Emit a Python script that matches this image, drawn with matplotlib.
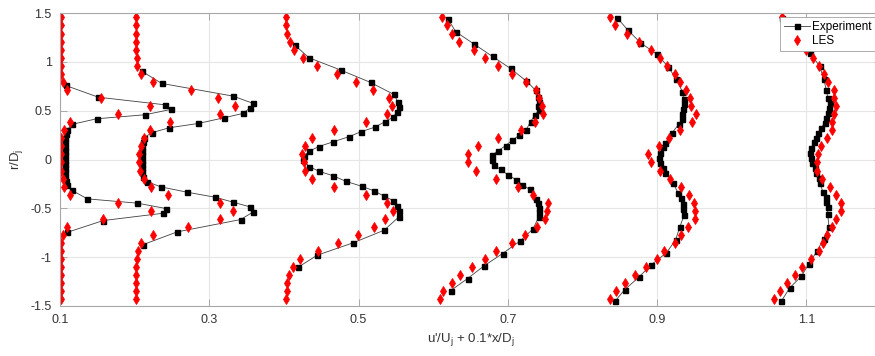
import matplotlib
matplotlib.use('Agg')
import matplotlib.pyplot as plt

plt.rcParams['font.family'] = ['Liberation Sans', 'DejaVu Sans']
plt.rcParams['mathtext.fontset'] = 'custom'
plt.rcParams['mathtext.rm'] = 'Liberation Sans'
plt.rcParams['mathtext.it'] = 'Liberation Sans'

# radial positions of the LES samples (same for every profile)
r_les = [1.455, 1.373, 1.29, 1.208, 1.125, 1.043, 0.96, 0.878, 0.795, 0.713,
         0.63, 0.548, 0.465, 0.383, 0.3, 0.218, 0.135, 0.053, -0.03, -0.113,
         -0.195, -0.278, -0.36, -0.443, -0.525, -0.608, -0.69, -0.773, -0.855,
         -0.938, -1.02, -1.103, -1.185, -1.268, -1.35, -1.433]

les1 = [0.101, 0.101, 0.101, 0.101, 0.101, 0.101, 0.101, 0.102, 0.104, 0.109,
        0.155, 0.22, 0.178, 0.113, 0.106, 0.102, 0.1015, 0.101, 0.1015, 0.102,
        0.1036, 0.106, 0.113, 0.178, 0.2215, 0.157, 0.109, 0.104, 0.1013,
        0.101, 0.101, 0.101, 0.101, 0.101, 0.101, 0.101]
les2 = [0.2014, 0.2014, 0.2014, 0.2014, 0.2014, 0.2027, 0.2035, 0.208, 0.225,
        0.275, 0.312, 0.335, 0.314, 0.247, 0.2205, 0.2125, 0.208, 0.2062,
        0.2062, 0.207, 0.212, 0.222, 0.245, 0.314, 0.332, 0.315, 0.272, 0.224,
        0.209, 0.205, 0.2027, 0.2018, 0.2014, 0.2014, 0.2014, 0.2014]
les3 = [0.4027, 0.4027, 0.4044, 0.408, 0.4134, 0.425, 0.4438, 0.4706, 0.496,
        0.5196, 0.541, 0.545, 0.5375, 0.5098, 0.4674, 0.4379, 0.4285, 0.4245,
        0.4268, 0.4281, 0.437, 0.467, 0.5094, 0.5375, 0.5455, 0.5348, 0.5205,
        0.4987, 0.4723, 0.4455, 0.4214, 0.4116, 0.4067, 0.4044, 0.4036, 0.4027]
les4 = [0.612, 0.6187, 0.6254, 0.6348, 0.6544, 0.6692, 0.6862, 0.7057, 0.725,
        0.7384, 0.7415, 0.7464, 0.7473, 0.7361, 0.7183, 0.687, 0.6602, 0.6468,
        0.646, 0.658, 0.6839, 0.713, 0.7339, 0.754, 0.7526, 0.7504, 0.7392,
        0.7236, 0.7057, 0.6848, 0.6696, 0.6522, 0.6366, 0.625, 0.6134, 0.6089]
les5 = [0.8366, 0.8433, 0.8603, 0.8758, 0.8915, 0.9035, 0.9138, 0.9236, 0.9303,
        0.9393, 0.9437, 0.946, 0.9517, 0.9473, 0.9303, 0.9156, 0.9026, 0.8879,
        0.8925, 0.9035, 0.9169, 0.9317, 0.9424, 0.95, 0.9504, 0.9508, 0.9415,
        0.9317, 0.9246, 0.9093, 0.9005, 0.8857, 0.8701, 0.8576, 0.8456, 0.8366]
les6 = [1.0678, 1.0736, 1.0803, 1.0897, 1.1, 1.1088, 1.1169, 1.1232, 1.129,
        1.1366, 1.1366, 1.1393, 1.1369, 1.1348, 1.1348, 1.1281, 1.1192, 1.1155,
        1.1142, 1.1147, 1.1214, 1.1321, 1.1392, 1.1468, 1.1459, 1.1392, 1.1348,
        1.1281, 1.1222, 1.1169, 1.1067, 1.0941, 1.0843, 1.0746, 1.0642, 1.0566]

# experiment profiles (own radial positions each)
r_exp1 = [0.758, 0.638, 0.56, 0.512, 0.458, 0.417, 0.359, 0.307, 0.263, 0.222,
          0.177, 0.133, 0.09, 0.045, 0.0, -0.045, -0.09, -0.133, -0.177,
          -0.222, -0.266, -0.314, -0.403, -0.447, -0.502, -0.55, -0.625, -0.745]
exp1 = [0.1076, 0.1513, 0.2406, 0.2482, 0.2138, 0.149, 0.1157, 0.110, 0.108,
        0.107, 0.1067, 0.1063, 0.1062, 0.1062, 0.1062, 0.1063, 0.1063, 0.1065,
        0.107, 0.108, 0.109, 0.1157, 0.1366, 0.2035, 0.242, 0.2384, 0.158, 0.110]

r_exp2 = [0.905, 0.779, 0.649, 0.574, 0.526, 0.471, 0.427, 0.369, 0.325, 0.274,
          0.222, 0.177, 0.133, 0.09, 0.045, 0.0, -0.045, -0.09, -0.133, -0.18,
          -0.228, -0.28, -0.335, -0.386, -0.437, -0.485, -0.536, -0.615,
          -0.741, -0.871]
exp2 = [0.2094, 0.2362, 0.332, 0.3589, 0.3545, 0.3447, 0.3196, 0.2852, 0.2464,
        0.2228, 0.2125, 0.2107, 0.2098, 0.2094, 0.2092, 0.2092, 0.2092, 0.2094,
        0.2098, 0.2107, 0.217, 0.235, 0.2705, 0.3076, 0.332, 0.3545, 0.3589,
        0.342, 0.257, 0.2116]

r_exp3 = [1.168, 1.042, 0.915, 0.789, 0.666, 0.587, 0.54, 0.482, 0.434, 0.386,
          0.331, 0.284, 0.233, 0.181, 0.133, 0.085, 0.034, 0.0, -0.072, -0.12,
          -0.167, -0.222, -0.274, -0.321, -0.376, -0.42, -0.471, -0.53, -0.591,
          -0.724, -0.853, -0.98, -1.103]
exp3 = [0.4151, 0.4335, 0.4763, 0.5161, 0.5473, 0.553, 0.5544, 0.551, 0.5464,
        0.5352, 0.5219, 0.5031, 0.487, 0.466, 0.4469, 0.4339, 0.4268, 0.425,
        0.4339, 0.4469, 0.466, 0.4826, 0.504, 0.521, 0.5343, 0.5464, 0.551,
        0.5544, 0.5536, 0.5343, 0.4928, 0.4446, 0.4191]

r_exp4 = [1.434, 1.308, 1.181, 1.055, 0.932, 0.802, 0.707, 0.638, 0.587, 0.543,
          0.502, 0.454, 0.386, 0.297, 0.246, 0.195, 0.143, 0.092, 0.044,
          -0.007, -0.058, -0.102, -0.154, -0.205, -0.256, -0.307, -0.403,
          -0.448, -0.495, -0.54, -0.587, -0.71, -0.837, -0.963, -1.089,
          -1.219, -1.342]
exp4 = [0.62, 0.6303, 0.6549, 0.6795, 0.7036, 0.725, 0.7375, 0.7411, 0.7419,
        0.7411, 0.7415, 0.7361, 0.7304, 0.7241, 0.7151, 0.7053, 0.6973, 0.6875,
        0.6786, 0.6782, 0.6817, 0.6902, 0.6996, 0.7107, 0.7191, 0.7294, 0.7375,
        0.7406, 0.7415, 0.7419, 0.7415, 0.7339, 0.716, 0.6929, 0.6682, 0.646,
        0.6236]

r_exp5 = [1.452, 1.322, 1.196, 1.076, 0.948, 0.82, 0.694, 0.615, 0.564, 0.512,
          0.461, 0.41, 0.359, 0.273, 0.171, 0.126, 0.069, 0.017, -0.034,
          -0.085, -0.136, -0.239, -0.341, -0.392, -0.451, -0.502, -0.571,
          -0.694, -0.82, -0.956, -1.076, -1.206, -1.332, -1.445]
exp5 = [0.8464, 0.8611, 0.8777, 0.9, 0.915, 0.9259, 0.9339, 0.9357, 0.9357,
        0.9348, 0.9339, 0.9334, 0.929, 0.92, 0.9112, 0.908, 0.9035, 0.9031,
        0.9035, 0.908, 0.9112, 0.9213, 0.928, 0.9326, 0.9348, 0.9348, 0.9361,
        0.9303, 0.925, 0.9125, 0.8924, 0.8754, 0.8567, 0.8442]

r_exp6 = [1.452, 1.32, 1.2, 1.086, 0.956, 0.827, 0.71, 0.625, 0.574, 0.523,
          0.479, 0.427, 0.376, 0.325, 0.274, 0.222, 0.177, 0.12, 0.069, 0.017,
          -0.034, -0.085, -0.136, -0.188, -0.239, -0.331, -0.386, -0.437,
          -0.489, -0.553, -0.69, -0.81, -0.94, -1.065, -1.196, -1.315, -1.45]
exp6 = [1.0678, 1.077, 1.091, 1.1053, 1.1178, 1.1232, 1.1268, 1.1289, 1.1312,
        1.1303, 1.1289, 1.1268, 1.1245, 1.1201, 1.1155, 1.1125, 1.1098, 1.1067,
        1.1053, 1.1067, 1.108, 1.1111, 1.1134, 1.1165, 1.1178, 1.1222, 1.1258,
        1.1268, 1.1289, 1.1285, 1.1303, 1.1232, 1.1142, 1.1035, 1.0933,
        1.0776, 1.0665]

exp_x = [exp1, exp2, exp3, exp4, exp5, exp6]
exp_r = [r_exp1, r_exp2, r_exp3, r_exp4, r_exp5, r_exp6]
les_x = [les1, les2, les3, les4, les5, les6]

xticks = [0.1, 0.3, 0.5, 0.7, 0.9, 1.1]
yticks = [-1.5, -1, -0.5, 0, 0.5, 1, 1.5]
ytick_labels = ['-1.5', '-1', '-0.5', '0', '0.5', '1', '1.5']

fig = plt.figure(figsize=(8.75, 3.56), dpi=100)
ax = fig.add_axes([60 / 875, 50 / 356, 821 / 875, 293 / 356])

for i in range(6):
    ax.plot(exp_x[i], exp_r[i], color='#404040', lw=0.6, marker='s',
            ms=3.6, mfc='k', mec='k',
            label='Experiment' if i == 0 else None)
for i in range(6):
    ax.plot(les_x[i], r_les, linestyle='none', marker='d', ms=5,
            mfc='red', mec='red', mew=0.6,
            label='LES' if i == 0 else None)

ax.set_xlim(0.1, 1.2)
ax.set_ylim(-1.5, 1.5)
ax.set_xticks(xticks)
ax.set_xticklabels([str(t) for t in xticks])
ax.set_yticks(yticks)
ax.set_yticklabels(ytick_labels)
ax.grid(True, color='#e6e6e6', lw=0.8)
ax.set_axisbelow(True)
ax.tick_params(direction='in', length=5, width=0.6, color='#a0a0a0',
               labelsize=9, labelcolor='#333333', top=True, right=True, pad=6)
for s in ax.spines.values():
    s.set_color('#a8a8a8')
    s.set_linewidth(0.8)

ax.set_xlabel("u'/U$_\\mathrm{j}$ + 0.1*x/D$_\\mathrm{j}$", fontsize=9.5,
              color='#333333', labelpad=3)
ax.set_ylabel("r/D$_\\mathrm{j}$", fontsize=9.5, color='#333333', labelpad=4)

leg = ax.legend(loc='upper right', bbox_to_anchor=(0.993, 0.985),
                fontsize=8.5, fancybox=False, framealpha=1,
                edgecolor='#a0a0a0', borderpad=0.3, labelspacing=0.2,
                handlelength=2.2, handletextpad=0.2, borderaxespad=0.0)
leg.get_frame().set_linewidth(0.6)

fig.savefig('out.png', dpi=100)
